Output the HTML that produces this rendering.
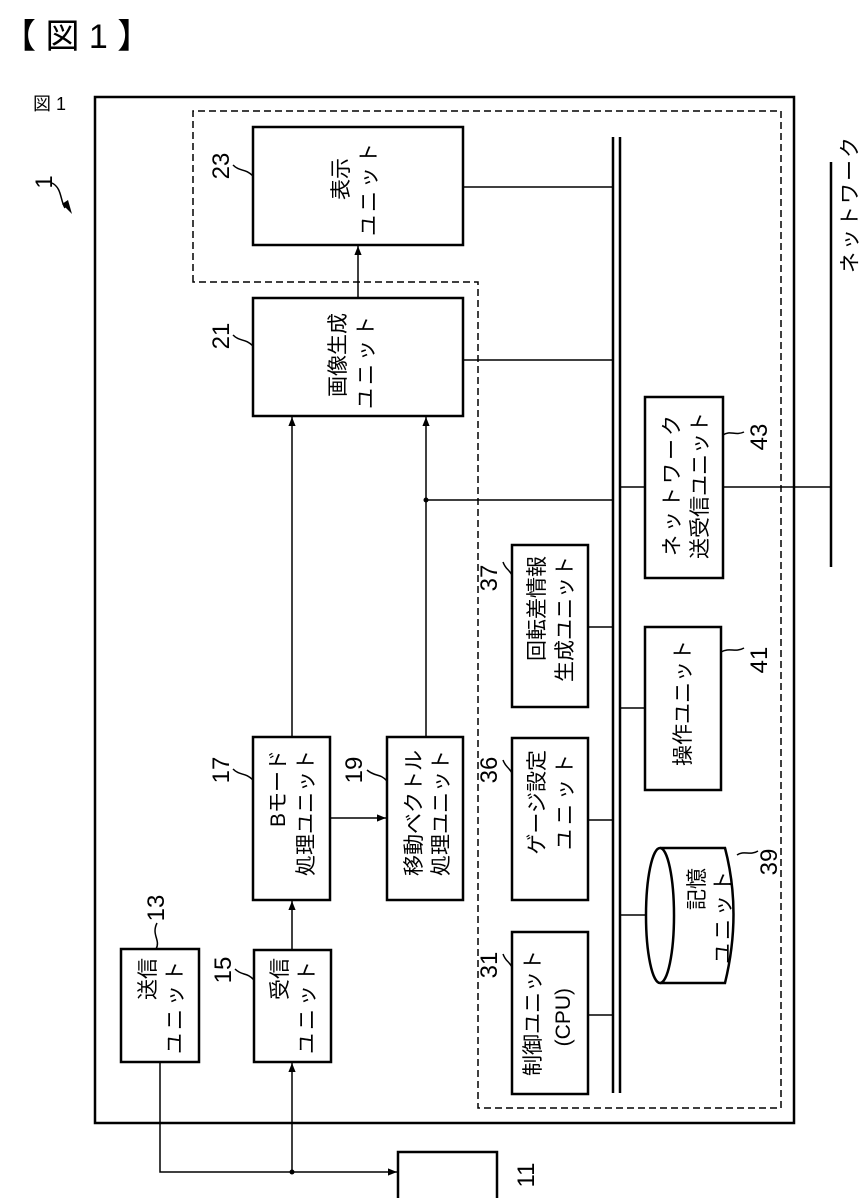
<!DOCTYPE html>
<html><head><meta charset="utf-8"><style>
html,body{margin:0;padding:0;background:#fff;}
svg{display:block;}
text{font-family:"Liberation Sans","Noto Sans CJK JP",sans-serif;fill:#000;}
</style></head><body>
<svg width="861" height="1198" viewBox="0 0 861 1198" xmlns="http://www.w3.org/2000/svg">
<defs><marker id="ar" viewBox="0 0 10 10" refX="10" refY="5" markerWidth="9" markerHeight="9" orient="auto-start-reverse" markerUnits="userSpaceOnUse"><path d="M0,1 L10,5 L0,9 Z" fill="#000"/></marker></defs>
<text x="2" y="48" font-size="34">【 図 1 】</text>
<text x="33" y="110" font-size="18">図 1</text>
<rect x="95" y="97" width="699" height="1026" fill="none" stroke="#000" stroke-width="2.5"/>
<path d="M193,282 L193,111 L781,111 L781,1108 L478,1108 L478,282 Z" fill="none" stroke="#000" stroke-width="1.5" stroke-dasharray="7,4"/>
<g fill="#fff" stroke="#000" stroke-width="2.5">
<rect x="253" y="127" width="210" height="118"/>
<rect x="253" y="298" width="210" height="118"/>
<rect x="253" y="737" width="77" height="163"/>
<rect x="387" y="737" width="76" height="163"/>
<rect x="121" y="949" width="78" height="113"/>
<rect x="254" y="950" width="77" height="112"/>
<rect x="512" y="545" width="76" height="162"/>
<rect x="512" y="738" width="76" height="162"/>
<rect x="512" y="932" width="76" height="162"/>
<rect x="645" y="397" width="78" height="181"/>
<rect x="645" y="627" width="76" height="163"/>
<rect x="398" y="1152" width="99" height="50"/>
</g>
<path d="M660,848 L725,848 Q742,913 725,983 L660,983" fill="#fff" stroke="#000" stroke-width="2.5"/>
<ellipse cx="660" cy="915.5" rx="14" ry="67.5" fill="#fff" stroke="#000" stroke-width="2.5"/>
<line x1="613" y1="137" x2="613" y2="1093" stroke="#000" stroke-width="2.5"/>
<line x1="620" y1="137" x2="620" y2="1093" stroke="#000" stroke-width="2.5"/>
<g stroke="#000" stroke-width="1.5" fill="none">
<line x1="463" y1="187" x2="613" y2="187"/>
<line x1="463" y1="360" x2="613" y2="360"/>
<line x1="426" y1="500" x2="613" y2="500"/>
<line x1="588" y1="627" x2="613" y2="627"/>
<line x1="588" y1="820" x2="613" y2="820"/>
<line x1="588" y1="1015" x2="613" y2="1015"/>
<line x1="620" y1="487" x2="645" y2="487"/>
<line x1="620" y1="708" x2="645" y2="708"/>
<line x1="620" y1="915" x2="646" y2="915"/>
<line x1="723" y1="487" x2="831" y2="487"/>
<line x1="358" y1="298" x2="358" y2="246" marker-end="url(#ar)"/>
<line x1="292" y1="737" x2="292" y2="417" marker-end="url(#ar)"/>
<line x1="426" y1="737" x2="426" y2="417" marker-end="url(#ar)"/>
<line x1="330" y1="818" x2="386" y2="818" marker-end="url(#ar)"/>
<line x1="292" y1="950" x2="292" y2="901" marker-end="url(#ar)"/>
<line x1="292" y1="1172" x2="292" y2="1063" marker-end="url(#ar)"/>
<polyline points="160,1062 160,1172 397,1172" marker-end="url(#ar)"/>
<path d="M253,176 C245,168 240,172 233,165"/>
<path d="M253,346 C245,338 240,342 233,335"/>
<path d="M253,780 C245,772 240,776 233,769"/>
<path d="M387,781 C380,773 375,777 367,770"/>
<path d="M156,949 C161,940 151,935 157,923"/>
<path d="M254,980 C247,972 242,976 235,969"/>
<path d="M512,575 C508,568 506,570 503,562"/>
<path d="M512,773 C508,766 506,768 503,760"/>
<path d="M512,967 C508,960 506,962 503,954"/>
<path d="M723,435 C730,430 735,436 744,432"/>
<path d="M721,652 C730,647 735,653 744,648"/>
<path d="M737,855 C744,850 750,856 758,851"/>
<path d="M52,183 C62,188 60,200 65,208"/>
</g>
<path d="M72,214 L62,204 L68,200 Z" fill="#000"/>
<line x1="831" y1="162" x2="831" y2="567" stroke="#000" stroke-width="2.5"/>
<circle cx="426" cy="500" r="2.5"/><circle cx="292" cy="1172" r="2.5"/>
<g font-size="21" text-anchor="end">
<text transform="translate(348,158) rotate(-90)">表示</text>
<text transform="translate(376,140) rotate(-90)" letter-spacing="3">ユニット</text>
<text transform="translate(345,313) rotate(-90)">画像生成</text>
<text transform="translate(373,313) rotate(-90)" letter-spacing="3">ユニット</text>
<text transform="translate(285,750) rotate(-90)">Bモード</text>
<text transform="translate(313,750) rotate(-90)">処理ユニット</text>
<text transform="translate(421,750) rotate(-90)">移動ベクトル</text>
<text transform="translate(448,750) rotate(-90)">処理ユニット</text>
<text transform="translate(155,958) rotate(-90)">送信</text>
<text transform="translate(182,958) rotate(-90)" letter-spacing="3">ユニット</text>
<text transform="translate(287,958) rotate(-90)">受信</text>
<text transform="translate(314,958) rotate(-90)" letter-spacing="3">ユニット</text>
<text transform="translate(544,556) rotate(-90)">回転差情報</text>
<text transform="translate(572,556) rotate(-90)">生成ユニット</text>
<text transform="translate(544,750) rotate(-90)">ゲージ設定</text>
<text transform="translate(572,750) rotate(-90)" letter-spacing="4">ユニット</text>
<text transform="translate(540,950) rotate(-90)">制御ユニット</text>
<text transform="translate(570,988) rotate(-90)">(CPU)</text>
<text transform="translate(679,412) rotate(-90)" letter-spacing="3">ネットワーク</text>
<text transform="translate(707,412) rotate(-90)">送受信ユニット</text>
<text transform="translate(690,640) rotate(-90)">操作ユニット</text>
<text transform="translate(704,868) rotate(-90)">記憶</text>
<text transform="translate(730,868) rotate(-90)" letter-spacing="3">ユニット</text>
<text transform="translate(857,135) rotate(-90)" letter-spacing="2">ネットワーク</text>
</g>
<g font-size="24" text-anchor="middle">
<text transform="translate(229,166) rotate(-90)">23</text>
<text transform="translate(229,336) rotate(-90)">21</text>
<text transform="translate(229,770) rotate(-90)">17</text>
<text transform="translate(362,770) rotate(-90)">19</text>
<text transform="translate(164,908) rotate(-90)">13</text>
<text transform="translate(231,970) rotate(-90)">15</text>
<text transform="translate(497,578) rotate(-90)">37</text>
<text transform="translate(497,770) rotate(-90)">36</text>
<text transform="translate(497,965) rotate(-90)">31</text>
<text transform="translate(767,437) rotate(-90)">43</text>
<text transform="translate(767,660) rotate(-90)">41</text>
<text transform="translate(777,862) rotate(-90)">39</text>
<text transform="translate(534,1175) rotate(-90)">11</text>
<text transform="translate(52,182) rotate(-90)">1</text>
</g>
</svg>
</body></html>
